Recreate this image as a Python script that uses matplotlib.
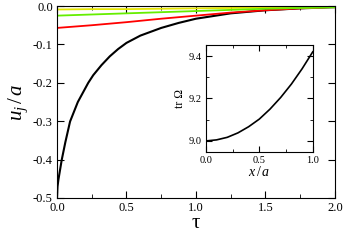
import numpy as np
import matplotlib
matplotlib.use("Agg")
import matplotlib.pyplot as plt
from matplotlib.ticker import MultipleLocator

plt.rcParams['font.family'] = ['Liberation Serif', 'DejaVu Serif']
plt.rcParams['mathtext.fontset'] = 'custom'
plt.rcParams['mathtext.it'] = 'Liberation Serif:italic'
plt.rcParams['mathtext.rm'] = 'Liberation Serif'

# %% data
tau_black = [0.0, 0.004, 0.01, 0.022, 0.034, 0.06, 0.094, 0.15, 0.225, 0.261, 0.32, 0.38, 0.44, 0.5,
             0.6, 0.75, 0.875, 1.0, 1.25, 1.5, 1.75, 2.0]
u_black = [-0.5, -0.47, -0.453, -0.427, -0.401, -0.355, -0.301, -0.25, -0.20, -0.180, -0.154, -0.131,
           -0.112, -0.096, -0.077, -0.057, -0.044, -0.033, -0.019, -0.011, -0.006, -0.003]

tau_c = [0.0, 0.25, 0.5, 0.75, 1.0, 1.25, 1.5, 1.75, 2.0]
u_red = [-0.057, -0.050, -0.042, -0.033, -0.025, -0.017, -0.011, -0.006, -0.002]
u_green = [-0.025, -0.022, -0.019, -0.016, -0.013, -0.010, -0.007, -0.005, -0.003]
u_yellow = [-0.009, -0.008, -0.008, -0.007, -0.006, -0.005, -0.004, -0.004, -0.003]

x_in = [0.0, 0.1, 0.2, 0.3, 0.4, 0.5, 0.6, 0.7, 0.8, 0.9, 1.0]
trO = [9.0, 9.005, 9.017, 9.038, 9.067, 9.103, 9.15, 9.205, 9.268, 9.34, 9.42]

# %% figure
fig = plt.figure(figsize=(3.46, 2.42), dpi=100)
ax = fig.add_axes([0.1647, 0.182, 0.8033, 0.793])
ax.plot(tau_black, u_black, color='black', lw=1.5)
ax.plot(tau_c, u_red, color='#ff0000', lw=1.3)
ax.plot(tau_c, u_yellow, color='#e6e600', lw=1.3)
ax.plot(tau_c, u_green, color='#66ee00', lw=1.3)
ax.set_xlim(0, 2)
ax.set_ylim(-0.5, 0)
ax.xaxis.set_major_locator(MultipleLocator(0.5))
ax.xaxis.set_minor_locator(MultipleLocator(0.25))
ax.yaxis.set_major_locator(MultipleLocator(0.1))
ax.xaxis.set_major_formatter(plt.FormatStrFormatter('%.1f'))
ax.yaxis.set_major_formatter(plt.FormatStrFormatter('%.1f'))
ax.tick_params(which='both', direction='in', top=True, right=True, labelsize=9, pad=3)
ax.tick_params(which='major', length=5)
ax.tick_params(which='minor', length=3)
ax.set_xlabel('τ', fontsize=15, labelpad=0)
ax.set_ylabel('$u_j\\,/\\,a$', fontsize=15, labelpad=2)

# inset
ins = fig.add_axes([0.595, 0.372, 0.309, 0.442])
ins.plot(x_in, trO, color='black', lw=1.2)
ins.set_xlim(0, 1)
ins.set_ylim(8.948, 9.452)
ins.xaxis.set_major_locator(MultipleLocator(0.5))
ins.xaxis.set_minor_locator(MultipleLocator(0.25))
ins.yaxis.set_major_locator(MultipleLocator(0.2))
ins.yaxis.set_minor_locator(MultipleLocator(0.1))
ins.xaxis.set_major_formatter(plt.FormatStrFormatter('%.1f'))
ins.yaxis.set_major_formatter(plt.FormatStrFormatter('%.1f'))
ins.tick_params(which='both', direction='in', top=True, right=True, labelsize=7.5, pad=3)
ins.tick_params(which='major', length=4)
ins.tick_params(which='minor', length=2.5)
ins.set_xlabel('$x\\,/\\,a$', fontsize=10, labelpad=0)
ins.set_ylabel('tr Ω', fontsize=8.5, labelpad=2)

fig.savefig('out.png', dpi=100)
